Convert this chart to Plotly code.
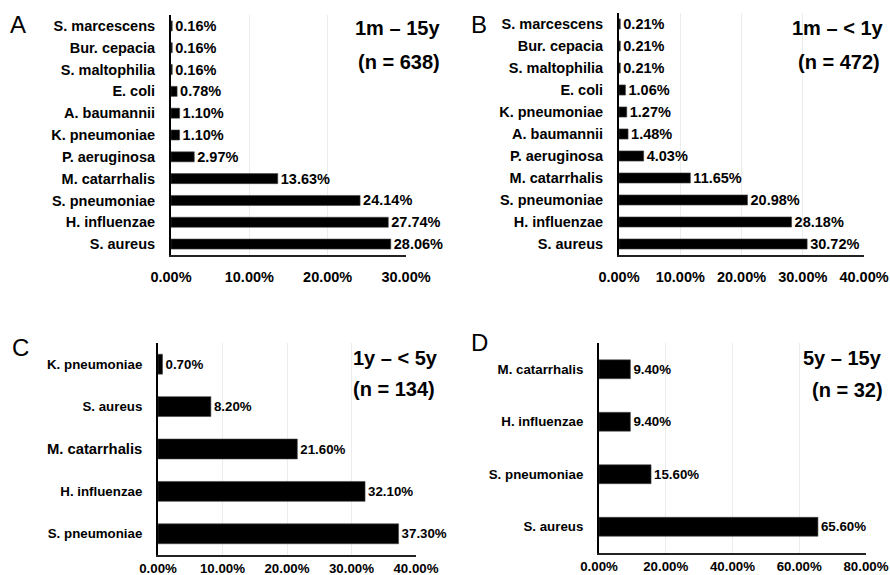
import plotly.graph_objects as go

# Isolated pathogens by age group (percent of isolates)
species_a = ["S. marcescens", "Bur. cepacia", "S. maltophilia", "E. coli", "A. baumannii",
             "K. pneumoniae", "P. aeruginosa", "M. catarrhalis", "S. pneumoniae",
             "H. influenzae", "S. aureus"]
pct_a = [0.16, 0.16, 0.16, 0.78, 1.10, 1.10, 2.97, 13.63, 24.14, 27.74, 28.06]

species_b = ["S. marcescens", "Bur. cepacia", "S. maltophilia", "E. coli", "K. pneumoniae",
             "A. baumannii", "P. aeruginosa", "M. catarrhalis", "S. pneumoniae",
             "H. influenzae", "S. aureus"]
pct_b = [0.21, 0.21, 0.21, 1.06, 1.27, 1.48, 4.03, 11.65, 20.98, 28.18, 30.72]

species_c = ["K. pneumoniae", "S. aureus", "M. catarrhalis", "H. influenzae", "S. pneumoniae"]
pct_c = [0.70, 8.20, 21.60, 32.10, 37.30]

species_d = ["M. catarrhalis", "H. influenzae", "S. pneumoniae", "S. aureus"]
pct_d = [9.40, 9.40, 15.60, 65.60]

panel_letters = ["A", "B", "C", "D"]
group_titles = ["1m – 15y", "1m – < 1y", "1y – < 5y", "5y – 15y"]
group_sizes = ["(n = 638)", "(n = 472)", "(n = 134)", "(n = 32)"]
x_max = [30, 40, 40, 80]
x_step = [10, 10, 10, 20]

W, H = 890, 575
FONT = "Liberation Sans, Arial, sans-serif"

def fx(px):
    return px / W

def fy(py):
    return 1 - py / H

# panel plot areas in pixels: (left, right, top, bottom)
boxes = [(171, 406, 15, 255), (619, 864, 13, 255), (158, 416, 343, 555), (599, 866, 343, 553)]
bar_w = [0.46, 0.46, 0.47, 0.36]
lab_size = [14.5, 14.5, 13.3, 13.3]
xtick_len = [8, 8, 0, 0]
# one label in panel C is set in a larger type
label_override = {(2, "M. catarrhalis"): 14.8}

panels = [(species_a, pct_a), (species_b, pct_b), (species_c, pct_c), (species_d, pct_d)]

fig = go.Figure()
layout = dict(width=W, height=H, margin=dict(l=0, r=0, t=0, b=0, pad=0, autoexpand=False),
              paper_bgcolor="white", plot_bgcolor="white", showlegend=False,
              font=dict(family=FONT, color="black"))

for i, (cats, vals) in enumerate(panels):
    n = "" if i == 0 else str(i + 1)
    fig.add_trace(go.Bar(
        x=vals, y=cats, orientation="h", xaxis="x" + n, yaxis="y" + n,
        width=bar_w[i],
        marker=dict(color="black", line=dict(color="#444444", width=0.6)),
        texttemplate="%{x:.2f}%", textposition="outside", cliponaxis=False,
        constraintext="none",
        textfont=dict(family=FONT, size=lab_size[i], color="black", weight="bold"),
        hoverinfo="skip",
    ))
    ticktext = []
    for c in cats:
        sz = label_override.get((i, c))
        ticktext.append(f"<span style='font-size:{sz}px'>{c}</span>" if sz else c)
    l, r, t, b = boxes[i]
    layout["xaxis" + n] = dict(
        domain=[fx(l), fx(r)], anchor="y" + n, range=[0, x_max[i]], automargin=False,
        dtick=x_step[i], tick0=0, tickformat=".2f", ticksuffix="%",
        showgrid=True, gridcolor="#ececec", gridwidth=1, zeroline=False,
        showline=True, linecolor="#222222", linewidth=1.5,
        ticks="outside" if xtick_len[i] else "", ticklen=xtick_len[i] or 5,
        tickcolor="rgba(0,0,0,0)",
        tickfont=dict(family=FONT, size=lab_size[i], color="black", weight="bold"),
        fixedrange=True,
    )
    layout["yaxis" + n] = dict(
        domain=[fy(b), fy(t)], anchor="x" + n, type="category", automargin=False,
        categoryorder="array", categoryarray=cats, autorange="reversed",
        tickmode="array", tickvals=cats, ticktext=ticktext,
        showgrid=False, zeroline=False,
        showline=True, linecolor="black", linewidth=2,
        ticks="outside", ticklen=11, tickcolor="rgba(0,0,0,0)",
        tickfont=dict(family=FONT, size=lab_size[i], color="black", weight="bold"),
        fixedrange=True,
    )

fig.update_layout(**layout)

# panel letters and group headings
letter_pos = [(18, 25), (479, 25), (20, 347), (479, 342)]
title_pos = [(442, 28, 442, 62), (886, 28, 882, 62), (440, 358, 437, 389), (884, 358, 885, 390)]
for i in range(4):
    lx, ly = letter_pos[i]
    fig.add_annotation(x=fx(lx), y=fy(ly), xref="paper", yref="paper", text=panel_letters[i],
                       showarrow=False, xanchor="center", yanchor="middle",
                       font=dict(family=FONT, size=24, color="black"))
    tx, ty, nx, ny = title_pos[i]
    fig.add_annotation(x=fx(tx), y=fy(ty), xref="paper", yref="paper", text=group_titles[i],
                       showarrow=False, xanchor="right", yanchor="middle",
                       font=dict(family=FONT, size=20, color="black", weight="bold"))
    fig.add_annotation(x=fx(nx), y=fy(ny), xref="paper", yref="paper", text=group_sizes[i],
                       showarrow=False, xanchor="right", yanchor="middle",
                       font=dict(family=FONT, size=20, color="black", weight="bold"))

fig.write_html("out.html")
